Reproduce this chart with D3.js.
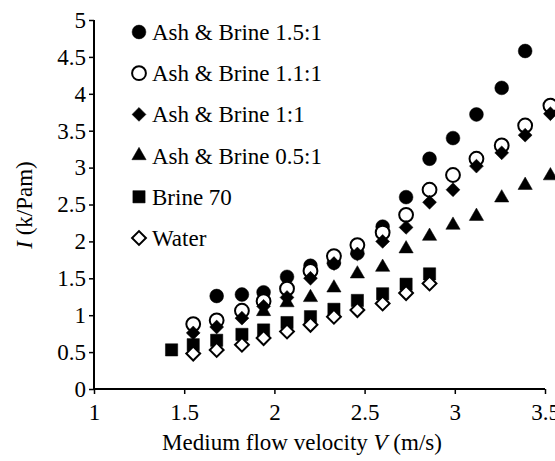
<!DOCTYPE html>
<html>
<head>
<meta charset="utf-8">
<script src="https://cdn.jsdelivr.net/npm/d3@7"></script>
<style>
    body { margin: 0; background: #fff; }
    svg { display: block; font-family: "Liberation Serif", "Times New Roman", serif; }
</style>
</head>
<body>
<svg id="chart" width="555" height="461"></svg>
<script>
// medium flow velocity (m/s), shared by all series
var velocity = [1.43, 1.55, 1.68, 1.82, 1.94, 2.07, 2.20, 2.33, 2.46, 2.60, 2.73, 2.86, 2.99, 3.12, 3.26, 3.39, 3.53];

// I (k/Pam), null where a series has no point
var ash15 = [null, null, 1.26, 1.28, 1.31, 1.52, 1.67, 1.71, 1.84, 2.20, 2.60, 3.12, 3.40, 3.72, 4.08, 4.58, null];
var ash11 = [null, 0.88, 0.93, 1.06, 1.19, 1.36, 1.60, 1.80, 1.95, 2.12, 2.36, 2.70, 2.90, 3.12, 3.30, 3.57, 3.84];
var ash10 = [null, 0.76, 0.84, 0.96, 1.12, 1.24, 1.50, 1.70, 1.83, 2.00, 2.19, 2.53, 2.70, 3.02, 3.20, 3.44, 3.73];
var ash05 = [null, null, null, null, 1.05, 1.17, 1.24, 1.37, 1.56, 1.65, 1.90, 2.07, 2.22, 2.34, 2.59, 2.76, 2.89];
var brine70 = [0.53, 0.60, 0.66, 0.74, 0.80, 0.90, 0.98, 1.08, 1.20, 1.29, 1.42, 1.56, null, null, null, null, null];
var water = [null, 0.48, 0.53, 0.60, 0.69, 0.78, 0.87, 0.98, 1.07, 1.16, 1.30, 1.43, null, null, null, null, null];

var seriesNames = ["Ash & Brine 1.5:1", "Ash & Brine 1.1:1", "Ash & Brine 1:1", "Ash & Brine 0.5:1", "Brine 70", "Water"];
var xTicks = [1, 1.5, 2, 2.5, 3, 3.5];
var yTicks = [0, 0.5, 1, 1.5, 2, 2.5, 3, 3.5, 4, 4.5, 5];

var series = [
    { name: seriesNames[0], values: ash15, shape: "circle", fill: "#000" },
    { name: seriesNames[1], values: ash11, shape: "circle", fill: "#fff" },
    { name: seriesNames[2], values: ash10, shape: "diamond", fill: "#000" },
    { name: seriesNames[3], values: ash05, shape: "triangle", fill: "#000" },
    { name: seriesNames[4], values: brine70, shape: "square", fill: "#000" },
    { name: seriesNames[5], values: water, shape: "diamond", fill: "#fff" }
];

var svg = d3.select("#chart");
var fontSize = 23;

var x = d3.scaleLinear().domain([1, 3.5]).range([94, 545]);
var y = d3.scaleLinear().domain([0, 5]).range([389, 20]);

function symbolPath(shape) {
    if (shape === "circle") return d3.symbol(d3.symbolCircle, 150)();
    if (shape === "square") return d3.symbol(d3.symbolSquare, 150)();
    if (shape === "triangle") return d3.symbol(d3.symbolTriangle, 88)();
    // diamond = square turned 45 degrees
    return d3.symbol(d3.symbolSquare, 96)();
}

function drawMarker(g, s, cx, cy) {
    var p = g.append("path")
        .attr("d", symbolPath(s.shape))
        .attr("fill", s.fill)
        .attr("stroke", "#000")
        .attr("stroke-width", s.fill === "#fff" ? 2 : 0.5);
    var t = "translate(" + cx + "," + cy + ")";
    if (s.shape === "diamond") t += " rotate(45)";
    p.attr("transform", t);
}

// axes
var xAxis = d3.axisBottom(x).tickValues(xTicks).tickSize(5).tickPadding(10).tickFormat(d3.format("~g"));
var yAxis = d3.axisLeft(y).tickValues(yTicks).tickSize(5).tickPadding(3).tickFormat(d3.format("~g"));

var gx = svg.append("g").attr("transform", "translate(0," + y(0) + ")").call(xAxis);
var gy = svg.append("g").attr("transform", "translate(" + x(1) + ",0)").call(yAxis);

[gx, gy].forEach(function (g) {
    g.select(".domain").attr("stroke", "#000").attr("stroke-width", 2);
    g.selectAll(".tick line").attr("stroke", "#000").attr("stroke-width", 1.5);
    g.selectAll(".tick text")
        .attr("fill", "#000")
        .style("font-family", "'Liberation Serif', serif")
        .style("font-size", fontSize + "px");
});
// d3 adds the outer tick ends, remove them
gx.select(".domain").attr("d", "M" + x(1) + ",0H" + x(3.5));
gy.select(".domain").attr("d", "M0," + y(0) + "V" + y(5));

// axis titles
var xt = svg.append("text")
    .attr("x", 302)
    .attr("y", 450)
    .attr("text-anchor", "middle")
    .style("font-size", fontSize + "px");
xt.append("tspan").text("Medium flow velocity ");
xt.append("tspan").style("font-style", "italic").text("V");
xt.append("tspan").text(" (m/s)");

var yt = svg.append("text")
    .attr("transform", "translate(32,205) rotate(-90)")
    .attr("text-anchor", "middle")
    .style("font-size", fontSize + "px");
yt.append("tspan").style("font-style", "italic").text("I");
yt.append("tspan").text(" (k/Pam)");

// points, drawn in series order so later series sit on top
series.forEach(function (s) {
    var g = svg.append("g");
    s.values.forEach(function (v, i) {
        if (v === null) return;
        drawMarker(g, s, x(velocity[i]), y(v));
    });
});

// legend
var legendTop = 32;
var legendStep = 41.2;
series.forEach(function (s, i) {
    var ly = legendTop + i * legendStep;
    var g = svg.append("g");
    drawMarker(g, s, 139, ly);
    g.append("text")
        .attr("x", 152)
        .attr("y", ly)
        .attr("dy", "0.35em")
        .style("font-size", fontSize + "px")
        .text(s.name);
});
</script>
</body>
</html>
